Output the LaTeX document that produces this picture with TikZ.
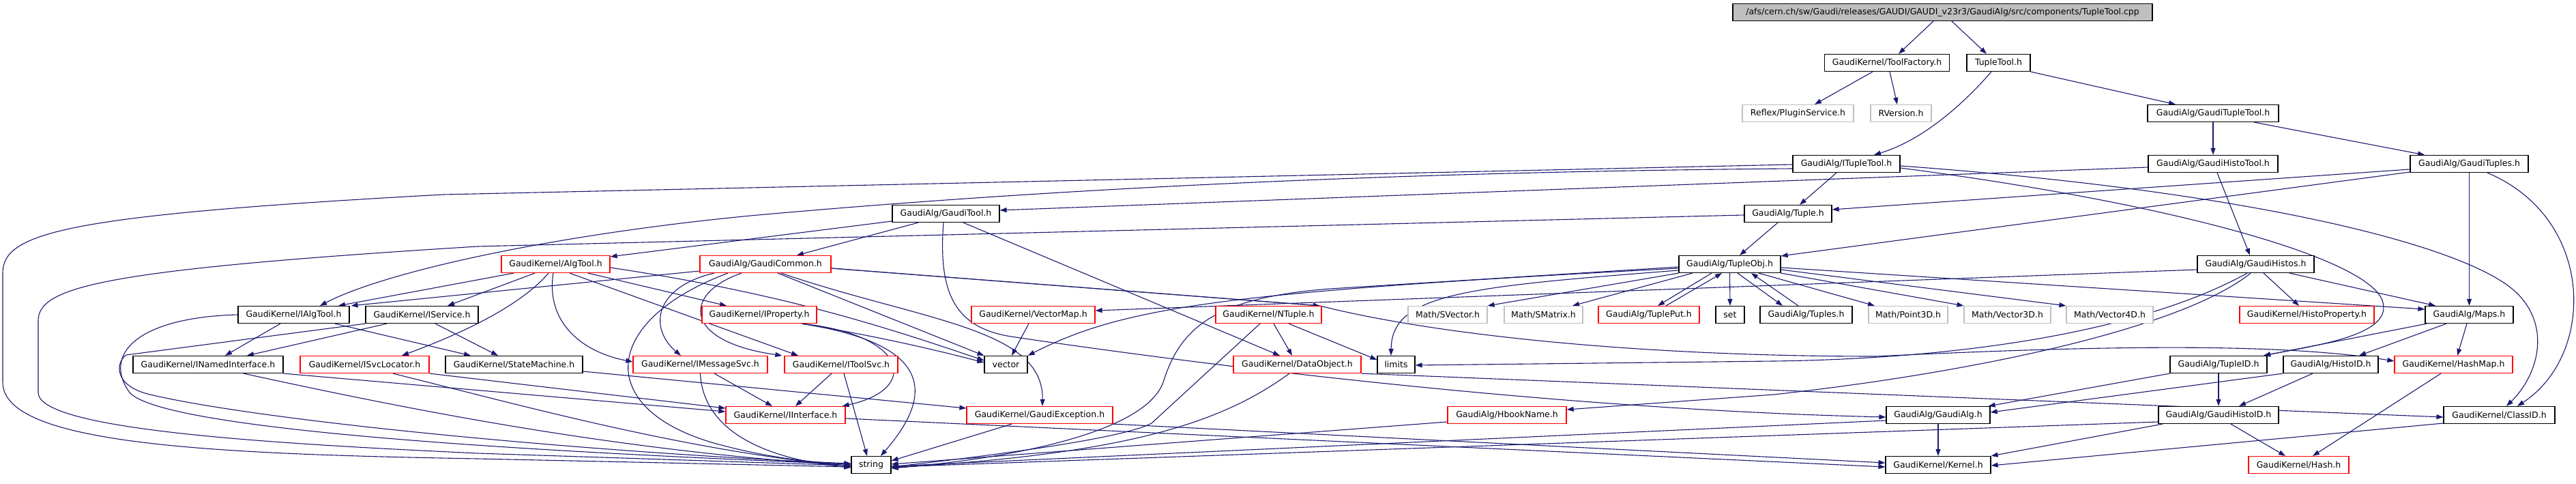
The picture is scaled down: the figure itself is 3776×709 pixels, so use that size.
\documentclass[tikz,border=0pt]{standalone}
\usepackage{fontspec}
\setmainfont{DejaVu Sans}
\usetikzlibrary{arrows.meta}
\definecolor{edgeblue}{HTML}{191970}
\definecolor{boxgray}{HTML}{BFBFBF}
\pgfdeclarelayer{bg}
\pgfsetlayers{bg,main}
\tikzset{
  box/.style={draw=black, line width=1.2pt, fill=white, minimum height=25pt, inner sep=0pt, font=\fontsize{12.5}{14}\selectfont, text=black},
  redbox/.style={box, draw=red},
  graybox/.style={box, draw=boxgray},
  rootbox/.style={box, fill=boxgray},
  e/.style={draw=edgeblue, line width=1.1pt, -{Triangle[length=10pt,width=7pt]}},
}
\begin{document}
\begin{tikzpicture}[x=1pt,y=-1pt]
\useasboundingbox (0,0) rectangle (3776,709);
% row 0
\node[rootbox, minimum width=615pt] (root) at (2847.5,18) {/afs/cern.ch/sw/Gaudi/releases/GAUDI/GAUDI\_v23r3/GaudiAlg/src/components/TupleTool.cpp};
% row 1
\node[box, minimum width=183pt] (tf) at (2766,92) {GaudiKernel/ToolFactory.h};
\node[box, minimum width=93pt] (tth) at (2929.5,92) {TupleTool.h};
% row 2
\node[graybox, minimum width=163pt] (ps) at (2635.5,166) {Reflex/PluginService.h};
\node[graybox, minimum width=89pt] (rv) at (2786.5,166) {RVersion.h};
\node[box, minimum width=192pt] (gtt) at (3244,166) {GaudiAlg/GaudiTupleTool.h};
% row 3
\node[box, minimum width=157pt] (itt) at (2706.5,240) {GaudiAlg/ITupleTool.h};
\node[box, minimum width=190pt] (ght) at (3244,240) {GaudiAlg/GaudiHistoTool.h};
\node[box, minimum width=173pt] (gts) at (3619.5,240) {GaudiAlg/GaudiTuples.h};
% row 4
\node[box, minimum width=157pt] (gt) at (1386.5,313) {GaudiAlg/GaudiTool.h};
\node[box, minimum width=128pt] (tup) at (2621,313) {GaudiAlg/Tuple.h};
% row 5
\node[redbox, minimum width=159pt] (algt) at (814.5,387) {GaudiKernel/AlgTool.h};
\node[redbox, minimum width=192pt] (gc) at (1122,387) {GaudiAlg/GaudiCommon.h};
\node[box, minimum width=149pt] (tobj) at (2535.5,387) {GaudiAlg/TupleObj.h};
\node[box, minimum width=171pt] (gh) at (3306.5,387) {GaudiAlg/GaudiHistos.h};
% row 6
\node[box, minimum width=163pt] (iat) at (430.5,461) {GaudiKernel/IAlgTool.h};
\node[box, minimum width=165pt] (isv) at (618.5,461) {GaudiKernel/IService.h};
\node[redbox, minimum width=168pt] (ipr) at (1113,461) {GaudiKernel/IProperty.h};
\node[redbox, minimum width=181pt] (vm) at (1514.5,461) {GaudiKernel/VectorMap.h};
\node[redbox, minimum width=155pt] (ntu) at (1859.5,461) {GaudiKernel/NTuple.h};
\node[graybox, minimum width=116pt] (sv) at (2122,461) {Math/SVector.h};
\node[graybox, minimum width=115pt] (smx) at (2262.5,461) {Math/SMatrix.h};
\node[redbox, minimum width=148pt] (tp) at (2417,461) {GaudiAlg/TuplePut.h};
\node[box, minimum width=42pt] (sset) at (2536,461) {set};
\node[box, minimum width=135pt] (tps) at (2647.5,461) {GaudiAlg/Tuples.h};
\node[graybox, minimum width=116pt] (p3) at (2797,461) {Math/Point3D.h};
\node[graybox, minimum width=127pt] (v3) at (2942.5,461) {Math/Vector3D.h};
\node[graybox, minimum width=127pt] (v4) at (3092.5,461) {Math/Vector4D.h};
\node[redbox, minimum width=197pt] (hp) at (3381.5,461) {GaudiKernel/HistoProperty.h};
\node[box, minimum width=129pt] (maps) at (3619.5,461) {GaudiAlg/Maps.h};
% row 7
\node[box, minimum width=220pt] (ini) at (305,534) {GaudiKernel/INamedInterface.h};
\node[redbox, minimum width=189pt] (isl) at (534.5,534) {GaudiKernel/ISvcLocator.h};
\node[box, minimum width=201pt] (stm) at (753.5,534) {GaudiKernel/StateMachine.h};
\node[redbox, minimum width=197pt] (ims) at (1026.5,534) {GaudiKernel/IMessageSvc.h};
\node[redbox, minimum width=166pt] (its) at (1233,534) {GaudiKernel/IToolSvc.h};
\node[box, minimum width=63pt] (vec) at (1474.5,534) {vector};
\node[redbox, minimum width=187pt] (dob) at (1901.5,534) {GaudiKernel/DataObject.h};
\node[box, minimum width=55pt] (lim) at (2046.5,534) {limits};
\node[box, minimum width=142pt] (tid) at (3252,534) {GaudiAlg/TupleID.h};
\node[box, minimum width=139pt] (hid) at (3416.5,534) {GaudiAlg/HistoID.h};
\node[redbox, minimum width=173pt] (hm) at (3596.5,534) {GaudiKernel/HashMap.h};
% row 8
\node[redbox, minimum width=175pt] (iif) at (1151.5,608) {GaudiKernel/IInterface.h};
\node[redbox, minimum width=214pt] (gex) at (1524,608) {GaudiKernel/GaudiException.h};
\node[redbox, minimum width=174pt] (hb) at (2209,608) {GaudiAlg/HbookName.h};
\node[box, minimum width=152pt] (ga) at (2841,608) {GaudiAlg/GaudiAlg.h};
\node[box, minimum width=176pt] (ghid) at (3252,608) {GaudiAlg/GaudiHistoID.h};
\node[box, minimum width=163pt] (cid) at (3663.5,608) {GaudiKernel/ClassID.h};
% row 9
\node[box, minimum width=58pt] (str) at (1277,681) {string};
\node[box, minimum width=154pt] (krn) at (2841,681) {GaudiKernel/Kernel.h};
\node[redbox, minimum width=147pt] (hsh) at (3369.5,681) {GaudiKernel/Hash.h};

\begin{pgfonlayer}{bg}
% top
\draw[e] ([xshift=-13.5pt]root.south) -- ([xshift=17pt]tf.north);
\draw[e] ([xshift=13.5pt]root.south) -- ([xshift=-17.5pt]tth.north);
\draw[e] ([xshift=-21pt]tf.south) -- ([xshift=24.5pt]ps.north);
\draw[e] ([xshift=4pt]tf.south) -- ([xshift=-5.5pt]rv.north);
\draw[e] ([xshift=-10.5pt]tth.south) .. controls (2880,150) and (2820,205) .. ([xshift=40.5pt]itt.north);
\draw[e] (tth.south east) -- ([xshift=-55pt]gtt.north);
\draw[e] (gtt.south) -- (ght.north);
\draw[e] ([xshift=60pt]gtt.south) -- ([xshift=-65.5pt]gts.north);
\draw[e] ([yshift=-5pt]ght.west) -- ([yshift=5pt]gt.east);
\draw[e] ([xshift=6pt]ght.south) -- ([xshift=-8.5pt]gh.north);
\draw[e] ([yshift=-8pt]gts.west) -- ([yshift=6pt]tup.east);
\draw[e] ([yshift=-12pt]gts.west) -- ([yshift=12pt]tobj.east);
\draw[e] (gts.south) -- (maps.north);
\draw[e] ([xshift=26.5pt]gts.south) .. controls (3805,320) and (3805,520) .. ([xshift=26.5pt]cid.north);
% ITupleTool
\draw[e] ([yshift=-1pt]itt.west) -- (650,285) .. controls (100,315) and (4,340) .. (4,400) -- (4,560) .. controls (4,650) and (300,665) .. (700,672) -- ([yshift=-3pt]str.west);
\draw[e] ([yshift=-7pt]itt.west) .. controls (2000,252) and (1500,280) .. (1100,316) .. controls (800,345) and (560,400) .. ([xshift=38.5pt]iat.north);
\draw[e] ([xshift=-14.5pt]itt.south) -- ([xshift=17pt]tup.north);
\draw[e] ([yshift=-3pt]itt.east) .. controls (3300,280) and (3620,360) .. (3690,430) .. controls (3740,480) and (3720,550) .. ([xshift=10.5pt]cid.north);
\draw[e] ([yshift=-6pt]itt.east) .. controls (3200,300) and (3470,380) .. (3492,440) .. controls (3510,490) and (3400,505) .. ([xshift=66pt]tid.north);
% Tuple
\draw[e] ([yshift=-2pt]tup.west) -- (700,361) .. controls (150,395) and (56,420) .. (56,470) -- (56,575) .. controls (56,630) and (400,650) .. (700,664) -- ([yshift=-1pt]str.west);
\draw[e] ([xshift=-15pt]tup.south) -- ([xshift=14.5pt]tobj.north);
% GaudiTool
\draw[e] ([yshift=-11pt]gt.west) -- ([yshift=11pt]algt.east);
\draw[e] ([xshift=-40.5pt]gt.south) -- ([xshift=46pt]gc.north);
\draw[e] ([xshift=25.5pt]gt.south) -- ([xshift=-25.5pt]dob.north);
\draw[e] ([xshift=-3.5pt]gt.south) .. controls (1375,430) and (1400,480) .. (1482,493) .. controls (1800,540) and (2300,600) .. ([yshift=-3pt]ga.west);
% AlgTool
\draw[e] ([xshift=-61.5pt]algt.south) -- ([xshift=65.5pt]iat.north);
\draw[e] ([xshift=-30.5pt]algt.south) -- ([xshift=37.5pt]isv.north);
\draw[e] ([xshift=-10.5pt]algt.south) .. controls (770,440) and (700,480) .. ([xshift=54.5pt]isl.north);
\draw[e] ([xshift=-3.5pt]algt.south) .. controls (800,470) and (850,515) .. ([yshift=4pt]ims.west);
\draw[e] ([xshift=20.5pt]algt.south) -- ([xshift=-63pt]its.north);
\draw[e] ([xshift=47.5pt]algt.south) -- ([xshift=-48pt]ipr.north);
\draw[e] ([yshift=-5pt]algt.east) .. controls (1150,430) and (1300,480) .. ([yshift=6pt]vec.west);
% IAlgTool, IService
\draw[e] ([xshift=-19.5pt]iat.south) -- ([xshift=25pt]ini.north);
\draw[e] ([xshift=60.5pt]iat.south) -- ([xshift=-63.5pt]stm.north);
\draw[e] (iat.west) .. controls (200,465) and (150,520) .. (190,575) .. controls (230,620) and (600,655) .. ([yshift=1pt]str.west);
\draw[e] ([xshift=-51.5pt]isv.south) -- ([xshift=57pt]ini.north);
\draw[e] ([xshift=19.5pt]isv.south) -- ([xshift=-23.5pt]stm.north);
\draw[e] (isv.south west) -- (185,520) .. controls (170,530) and (165,565) .. (220,578) .. controls (400,620) and (900,665) .. ([yshift=2pt]str.west);
% row 7 left
\draw[e] (ini.south east) -- ([yshift=5pt]iif.west);
\draw[e] ([xshift=52pt]ini.south) .. controls (600,600) and (900,660) .. ([yshift=-1pt]str.west);
\draw[e] (isl.south east) -- ([yshift=10pt]iif.west);
\draw[e] ([xshift=41.5pt]isl.south) .. controls (750,590) and (1000,660) .. ([yshift=-2pt]str.west);
\draw[e] ([yshift=-10pt]stm.east) -- ([yshift=10pt]gex.west);
\draw[e] ([xshift=20.5pt]ims.south) -- ([xshift=-19.5pt]iif.north);
\draw[e] (ims.south) .. controls (1030,620) and (1100,670) .. ([yshift=-4pt]str.west);
\draw[e] ([xshift=-14pt]its.south) -- ([xshift=14.5pt]iif.north);
\draw[e] ([xshift=4pt]its.south) -- ([xshift=-6pt]str.north);
% IProperty
\draw[e] ([xshift=62pt]ipr.south) .. controls (1330,490) and (1350,570) .. ([xshift=-5pt]iif.north east);
\draw[e] ([xshift=62pt]ipr.south) .. controls (1340,500) and (1385,560) .. ([xshift=14pt]str.north);
\draw[e] ([xshift=62pt]ipr.south) .. controls (1300,495) and (1380,515) .. ([yshift=3pt]vec.west);
% IInterface, GaudiException
\draw[e] ([yshift=-5pt]iif.east) -- ([yshift=-3pt]krn.west);
\draw[e] ([xshift=-41pt]gex.south) -- ([yshift=6pt]str.east);
\draw[e] (gex.south east) -- ([yshift=3pt]krn.west);
% GaudiCommon
\draw[e] ([yshift=-10pt]gc.west) -- ([xshift=2pt]iat.north east);
\draw[e] ([xshift=-75pt]gc.south) .. controls (960,420) and (950,480) .. ([xshift=-28.5pt]ims.north);
\draw[e] ([xshift=-35pt]gc.south) .. controls (1000,430) and (1000,500) .. ([xshift=-3pt]its.north west);
\draw[e] ([xshift=-55pt]gc.south) .. controls (880,470) and (870,600) .. (1050,650) .. controls (1130,672) and (1200,678) .. ([yshift=1pt]str.west);
\draw[e] ([xshift=18pt]gc.south) -- (vec.north west);
\draw[e] ([xshift=23pt]gc.south) .. controls (1350,470) and (1530,480) .. ([xshift=4pt]gex.north);
\draw[e] ([yshift=-6pt]gc.east) -- ([xshift=-3pt]ntu.north east);
\draw[e] ([yshift=-6pt]gc.east) -- ([xshift=-3pt]ntu.north east) .. controls (2100,490) and (2400,522) .. (2750,522) .. controls (3100,505) and (3350,503) .. ([yshift=5pt]hm.west);
% TupleObj
\draw[e] (tobj.south west) -- (sv.north east);
\draw[e] ([xshift=-54.5pt]tobj.south) -- ([xshift=42.5pt]smx.north);
\draw[e] ([xshift=-26.5pt]tobj.south) -- ([xshift=13pt]tp.north);
\draw[e] ([xshift=25pt]tp.north) -- ([xshift=-11.5pt]tobj.south);
\draw[e] (tobj.south) -- (sset.north);
\draw[e] ([xshift=11.5pt]tobj.south) -- ([xshift=-34.5pt]tps.north);
\draw[e] ([xshift=-11.5pt]tps.north) -- ([xshift=31.5pt]tobj.south);
\draw[e] ([xshift=42.5pt]tobj.south) -- ([xshift=-49pt]p3.north);
\draw[e] (tobj.south east) -- (v3.north west);
\draw[e] ([yshift=-8pt]tobj.east) -- (v4.north west);
\draw[e] ([yshift=-5pt]tobj.east) -- ([yshift=8pt]maps.west);
\draw[e] ([yshift=-9pt]tobj.west) .. controls (2150,420) and (2040,430) .. ([xshift=-7.5pt]lim.north);
\draw[e] ([yshift=-4pt]tobj.west) -- (1950,423) .. controls (1780,436) and (1730,480) .. (1705,560) .. controls (1680,630) and (1500,670) .. ([yshift=-5pt]str.east);
\draw[e] ([yshift=-6pt]tobj.west) .. controls (1800,428) and (1650,448) .. (vec.north east);
% GaudiHistos
\draw[e] ([yshift=-8pt]gh.west) -- ([yshift=6pt]vm.east);
\draw[e] ([xshift=11.5pt]gh.south) -- ([xshift=-11.5pt]hp.north);
\draw[e] ([xshift=49.5pt]gh.south) -- ([xshift=-49.5pt]maps.north);
\draw[e] ([xshift=-12.5pt]gh.south) .. controls (3150,480) and (2900,525) .. (2600,529) -- ([yshift=-1pt]lim.east);
\draw[e] ([xshift=-7.5pt]gh.south) .. controls (3200,480) and (2900,545) .. (2600,578) -- ([yshift=8pt]hb.east);
% row 6 misc
\draw[e] ([xshift=-6.5pt]vm.south) -- ([xshift=8.5pt]vec.north);
\draw[e] ([xshift=-12.5pt]ntu.south) -- (1688,620) .. controls (1650,640) and (1500,662) .. ([yshift=-3pt]str.east);
\draw[e] ([xshift=7.5pt]ntu.south) -- ([xshift=-7.5pt]dob.north);
\draw[e] ([xshift=29.5pt]ntu.south) -- ([yshift=7pt]lim.west);
\draw[e] ([xshift=-11.5pt]dob.south) .. controls (1790,620) and (1650,665) .. ([yshift=-4pt]str.east);
\draw[e] (dob.south east) -- ([yshift=-3pt]cid.west);
% Maps
\draw[e] ([xshift=-62pt]maps.south) -- ([xshift=66pt]tid.north);
\draw[e] ([xshift=-33.5pt]maps.south) -- ([xshift=41.5pt]hid.north);
\draw[e] ([xshift=-3.5pt]maps.south) -- ([xshift=5.5pt]hm.north);
% row 7 right
\draw[e] (tid.south west) -- ([xshift=-3pt]ga.north east);
\draw[e] (hid.south west) -- ([yshift=4pt]ga.east);
\draw[e] (tid.south) -- (ghid.north);
\draw[e] ([xshift=-26.5pt]hid.south) -- ([xshift=30pt]ghid.north);
\draw[e] ([xshift=-18.5pt]hm.south) -- ([xshift=20.5pt]hsh.north);
% row 8
\draw[e] ([xshift=-82pt]ghid.south) -- (krn.north east);
\draw[e] ([xshift=18pt]ghid.south) -- ([xshift=-19.5pt]hsh.north);
\draw[e] ([yshift=-10pt]ghid.west) -- ([yshift=-3pt]str.east);
\draw[e] ([yshift=-12pt]cid.west) -- ([yshift=-1pt]krn.east);
\draw[e] (ga.south) -- (krn.north);
\draw[e] ([yshift=-8pt]ga.west) -- ([yshift=-2pt]str.east);
\draw[e] ([yshift=-10pt]hb.west) -- ([yshift=1pt]str.east);
\end{pgfonlayer}
\end{tikzpicture}
\end{document}
